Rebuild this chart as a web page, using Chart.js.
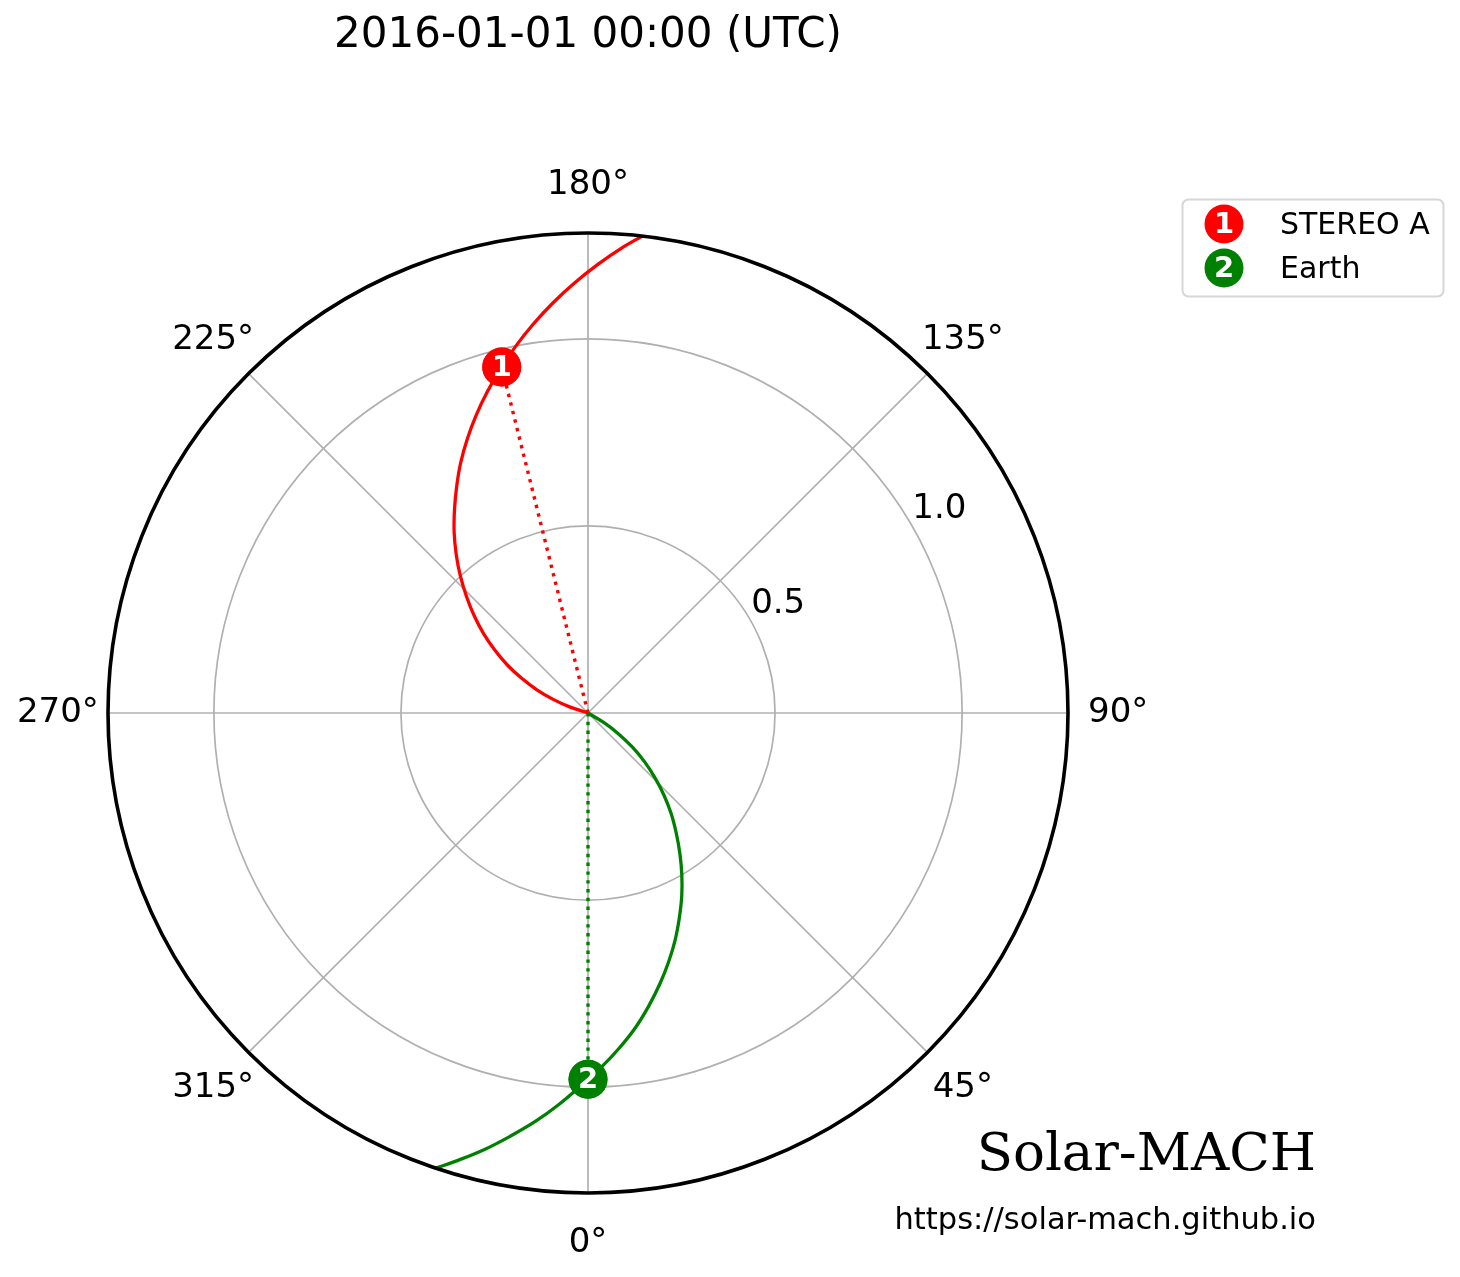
<!DOCTYPE html>
<html>
<head>
<meta charset="utf-8">
<script src="https://cdn.jsdelivr.net/npm/chart.js@4/dist/chart.umd.min.js"></script>
<style>
  html, body { margin: 0; padding: 0; background: #ffffff; }
  #c { display: block; }
</style>
</head>
<body>
<canvas id="c" width="1460" height="1277"></canvas>
<script>
// ---------------- DATA ----------------
const titleText = '2016-01-01 00:00 (UTC)';
const bodyNames = ['STEREO A', 'Earth'];
const bodyDist = [0.953, 0.979];        // AU
const bodyLon = [194.0, 0.0];           // degrees (plot angle)

// Parker spiral field lines
const stereoSpiralDist = [0.00, 0.05, 0.10, 0.15, 0.20, 0.25, 0.30, 0.35, 0.40, 0.45, 0.50, 0.55, 0.60, 0.65, 0.70, 0.75, 0.80, 0.85, 0.90, 0.953, 1.00, 1.05, 1.10, 1.15, 1.20, 1.25, 1.283];
const stereoSpiralLon  = [255.0, 251.8, 248.7, 245.6, 242.4, 239.3, 236.0, 232.8, 229.5, 226.2, 223.0, 219.8, 216.6, 213.3, 210.1, 207.0, 203.8, 200.6, 197.4, 194.0, 191.1, 188.0, 184.9, 181.8, 178.7, 175.6, 173.5];
const earthSpiralDist  = [0.00, 0.05, 0.10, 0.15, 0.20, 0.25, 0.30, 0.35, 0.40, 0.45, 0.50, 0.55, 0.60, 0.65, 0.70, 0.75, 0.80, 0.85, 0.90, 0.95, 0.979, 1.00, 1.05, 1.10, 1.15, 1.20, 1.25, 1.283];
const earthSpiralLon   = [62.0, 58.8, 55.6, 52.4, 49.2, 45.9, 42.7, 39.5, 36.2, 33.1, 30.1, 27.1, 24.0, 21.0, 17.9, 14.8, 11.7, 8.6, 5.3, 2.0, 0.0, 358.7, 355.7, 352.7, 349.6, 346.6, 343.5, 341.5];

const thetaTicks = [0, 45, 90, 135, 180, 225, 270, 315];
const thetaTickLabels = ['0°', '45°', '90°', '135°', '180°', '225°', '270°', '315°'];
const radialTicks = [0.5, 1.0];
const radialTickLabels = ['0.5', '1.0'];
const rMax = 1.283;
const watermark = 'Solar-MACH';
const urlText = 'https://solar-mach.github.io';

// ---------------- STYLE ----------------
const bodyColors = ['#ff0000', '#008000'];
const FONT = '"DejaVu Sans", "Noto Sans", sans-serif';
const SERIF = '"DejaVu Serif", serif';
const MARKER_R = 19.5;

// ---------------- helpers ----------------
function toXY(r, lonDeg) {
  const a = lonDeg * Math.PI / 180;
  return { x: r * Math.sin(a), y: -r * Math.cos(a) };
}
function toPoints(dist, lon) { return dist.map((r, i) => toXY(r, lon[i])); }

const datasets = [];
// spirals
datasets.push({ label: 'spiral0', data: toPoints(stereoSpiralDist, stereoSpiralLon), showLine: true,
  borderColor: bodyColors[0], borderWidth: 3.3, pointRadius: 0, tension: 0.4, fill: false });
datasets.push({ label: 'spiral1', data: toPoints(earthSpiralDist, earthSpiralLon), showLine: true,
  borderColor: bodyColors[1], borderWidth: 3.3, pointRadius: 0, tension: 0.4, fill: false });
// dotted radial lines Sun -> body
bodyNames.forEach((n, i) => {
  datasets.push({ label: 'radial' + i, data: [toXY(0, 0), toXY(bodyDist[i], bodyLon[i])], showLine: true,
    borderColor: bodyColors[i], borderWidth: 3.4, borderDash: [3.4, 5.4], borderCapStyle: 'butt',
    pointRadius: 0, tension: 0, fill: false });
});
// body markers
bodyNames.forEach((n, i) => {
  datasets.push({ label: n, data: [toXY(bodyDist[i], bodyLon[i])], showLine: false,
    pointRadius: MARKER_R, pointHoverRadius: MARKER_R, backgroundColor: bodyColors[i], borderWidth: 0, isBody: i });
});

function drawNumberMarker(ctx, x, y, color, num) {
  ctx.save();
  ctx.beginPath();
  ctx.arc(x, y, MARKER_R, 0, Math.PI * 2);
  ctx.fillStyle = color;
  ctx.fill();
  ctx.fillStyle = '#ffffff';
  ctx.font = 'bold 29px ' + FONT;
  ctx.textAlign = 'center';
  ctx.textBaseline = 'middle';
  ctx.fillText(String(num), x, y + 1);
  ctx.restore();
}

const polarPlugin = {
  id: 'polarDecor',
  beforeDatasetsDraw(chart) {
    const ctx = chart.ctx, xs = chart.scales.x, ys = chart.scales.y;
    const cx = xs.getPixelForValue(0), cy = ys.getPixelForValue(0);
    const pr = r => xs.getPixelForValue(r) - cx;
    ctx.save();
    ctx.strokeStyle = '#b0b0b0';
    ctx.lineWidth = 1.7;
    radialTicks.forEach(r => {
      ctx.beginPath(); ctx.arc(cx, cy, pr(r), 0, Math.PI * 2); ctx.stroke();
    });
    thetaTicks.forEach(t => {
      const p = toXY(rMax, t);
      ctx.beginPath(); ctx.moveTo(cx, cy);
      ctx.lineTo(xs.getPixelForValue(p.x), ys.getPixelForValue(p.y)); ctx.stroke();
    });
    ctx.restore();
  },
  afterDatasetsDraw(chart) {
    const ctx = chart.ctx, xs = chart.scales.x, ys = chart.scales.y;
    const cx = xs.getPixelForValue(0), cy = ys.getPixelForValue(0);
    // outer spine
    ctx.save();
    ctx.strokeStyle = '#000000';
    ctx.lineWidth = 3.6;
    ctx.beginPath(); ctx.arc(cx, cy, xs.getPixelForValue(rMax) - cx, 0, Math.PI * 2); ctx.stroke();
    ctx.restore();
    // numbers on body markers
    chart.data.datasets.forEach((ds, di) => {
      if (ds.isBody === undefined) return;
      const meta = chart.getDatasetMeta(di);
      meta.data.forEach(el => drawNumberMarker(ctx, el.x, el.y, bodyColors[ds.isBody], ds.isBody + 1));
    });
  },
  afterDraw(chart) {
    const ctx = chart.ctx, xs = chart.scales.x, ys = chart.scales.y;
    ctx.save();
    ctx.fillStyle = '#000000';
    // angular tick labels
    ctx.font = '34px ' + FONT;
    ctx.textAlign = 'center';
    ctx.textBaseline = 'middle';
    thetaTicks.forEach((t, i) => {
      const p = toXY(1.417, t);
      const dy = (t > 90 && t < 270) ? 2 : 0;
      ctx.fillText(thetaTickLabels[i], xs.getPixelForValue(p.x), ys.getPixelForValue(p.y) + dy);
    });
    // radial tick labels
    radialTicks.forEach((r, i) => {
      const p = toXY(r + 0.09, 120.5);
      ctx.fillText(radialTickLabels[i], xs.getPixelForValue(p.x), ys.getPixelForValue(p.y) + 3);
    });
    // title
    ctx.font = '42px ' + FONT;
    ctx.fillText(titleText, 588, 36);
    // watermark
    ctx.textAlign = 'right';
    ctx.textBaseline = 'alphabetic';
    ctx.font = '53px ' + SERIF;
    ctx.fillText(watermark, 1316, 1170);
    ctx.font = '30.5px ' + FONT;
    ctx.fillText(urlText, 1316, 1229);
    // legend
    const lx = 1182.5, ly = 199.5, lw = 261, lh = 97, rad = 6;
    ctx.beginPath();
    ctx.moveTo(lx + rad, ly);
    ctx.arcTo(lx + lw, ly, lx + lw, ly + lh, rad);
    ctx.arcTo(lx + lw, ly + lh, lx, ly + lh, rad);
    ctx.arcTo(lx, ly + lh, lx, ly, rad);
    ctx.arcTo(lx, ly, lx + lw, ly, rad);
    ctx.closePath();
    ctx.fillStyle = 'rgba(255,255,255,0.8)';
    ctx.fill();
    ctx.strokeStyle = '#d6d6d6';
    ctx.lineWidth = 2;
    ctx.stroke();
    bodyNames.forEach((n, i) => {
      const yy = 224 + i * 44;
      drawNumberMarker(ctx, 1224, yy, bodyColors[i], i + 1);
      ctx.fillStyle = '#000000';
      ctx.font = '30px ' + FONT;
      ctx.textAlign = 'left';
      ctx.textBaseline = 'middle';
      ctx.fillText(n, 1280, yy + 2);
    });
    ctx.restore();
  }
};

new Chart(document.getElementById('c'), {
  type: 'scatter',
  data: { datasets },
  options: {
    responsive: false,
    animation: false,
    devicePixelRatio: 1,
    layout: { padding: { left: 108, right: 392, top: 233, bottom: 84 } },
    scales: {
      x: { type: 'linear', min: -rMax, max: rMax, display: false },
      y: { type: 'linear', min: -rMax, max: rMax, display: false }
    },
    plugins: { legend: { display: false }, tooltip: { enabled: false }, title: { display: false } }
  },
  plugins: [polarPlugin]
});
</script>
</body>
</html>
